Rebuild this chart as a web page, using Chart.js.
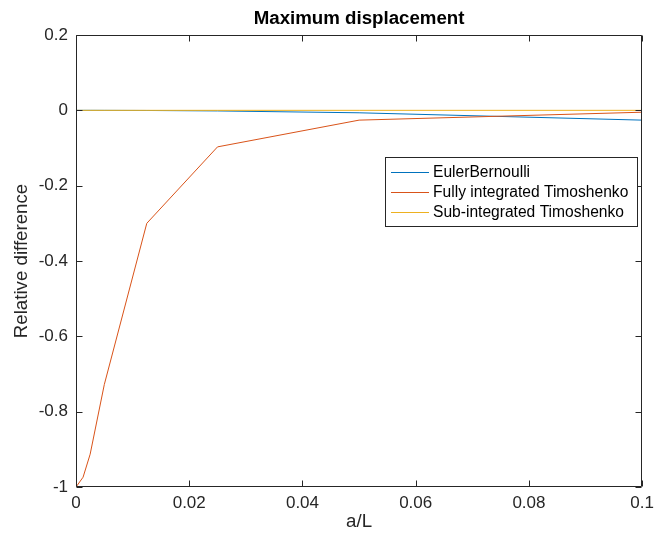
<!DOCTYPE html>
<html>
<head>
<meta charset="utf-8">
<script src="https://cdn.jsdelivr.net/npm/chart.js@4.4.0/dist/chart.umd.min.js"></script>
<style>
  html, body { margin: 0; padding: 0; background: #fff; }
  #wrap { width: 660px; height: 538px; }
</style>
</head>
<body>
<div id="wrap"><canvas id="chart" width="660" height="538"></canvas></div>
<script>
// a/L values of the runs, and relative difference for each model
const aOverL = [0.0001, 0.00125, 0.0025, 0.005, 0.0125, 0.025, 0.05, 0.1];
const eulerBernoulli = [0, 0, 0, -0.0001, -0.0004, -0.0016, -0.0065, -0.026];
const fullyIntegrated = [-0.998, -0.974, -0.913, -0.728, -0.300, -0.097, -0.026, -0.005];
const subIntegrated = [0, 0, 0, 0, 0, 0, 0, 0];

const seriesNames = ["EulerBernoulli", "Fully integrated Timoshenko", "Sub-integrated Timoshenko"];
const seriesColors = ["#0072BD", "#D95319", "#EDB120"];

const xTicks = [0, 0.02, 0.04, 0.06, 0.08, 0.1];
const xTickLabels = ["0", "0.02", "0.04", "0.06", "0.08", "0.1"];
const yTicks = [-1, -0.8, -0.6, -0.4, -0.2, 0, 0.2];
const yTickLabels = ["-1", "-0.8", "-0.6", "-0.4", "-0.2", "0", "0.2"];

const axisColor = "#262626";
const fontFamily = "'Liberation Sans', Arial, Helvetica, sans-serif";

function toPoints(ys) {
    return aOverL.map((x, i) => ({ x: x, y: ys[i] }));
}

// MATLAB style box, inward ticks, title and legend
const matlabFrame = {
    id: "matlabFrame",
    afterDatasetsDraw(chart) {
        const ctx = chart.ctx;
        const a = chart.chartArea;
        const xs = chart.scales.x, ys = chart.scales.y;
        const L = Math.round(a.left) + 0.5, R = Math.round(a.right) - 0.5;
        const T = Math.round(a.top) + 0.5, B = Math.round(a.bottom) - 0.5;
        const tick = 6;
        ctx.save();
        ctx.strokeStyle = axisColor;
        ctx.lineWidth = 1;
        ctx.beginPath();
        ctx.rect(L, T, R - L, B - T);
        xTicks.forEach(v => {
            const px = Math.round(xs.getPixelForValue(v)) + 0.5;
            ctx.moveTo(px, B); ctx.lineTo(px, B - tick);
            ctx.moveTo(px, T); ctx.lineTo(px, T + tick);
        });
        yTicks.forEach(v => {
            const py = Math.round(ys.getPixelForValue(v)) + 0.5;
            ctx.moveTo(L, py); ctx.lineTo(L + tick, py);
            ctx.moveTo(R, py); ctx.lineTo(R - tick, py);
        });
        ctx.stroke();

        // title
        ctx.fillStyle = "#000";
        ctx.font = "bold 18.7px " + fontFamily;
        ctx.textAlign = "center";
        ctx.textBaseline = "middle";
        ctx.fillText("Maximum displacement", (a.left + a.right) / 2, 19);

        // legend
        const bx = 385.5, by = 157.5, bw = 252, bh = 69;
        ctx.fillStyle = "#fff";
        ctx.fillRect(bx, by, bw, bh);
        ctx.strokeStyle = axisColor;
        ctx.strokeRect(bx, by, bw, bh);
        ctx.font = "15.6px " + fontFamily;
        ctx.textAlign = "left";
        for (let i = 0; i < seriesNames.length; i++) {
            const ly = 172.5 + i * 20;
            ctx.beginPath();
            ctx.strokeStyle = seriesColors[i];
            ctx.moveTo(391, ly);
            ctx.lineTo(429, ly);
            ctx.stroke();
            ctx.fillStyle = "#000";
            ctx.fillText(seriesNames[i], 433, ly);
        }
        ctx.restore();
    }
};

const ctx = document.getElementById("chart").getContext("2d");
new Chart(ctx, {
    type: "scatter",
    data: {
        datasets: [
            { label: seriesNames[0], data: toPoints(eulerBernoulli), borderColor: seriesColors[0], order: 3 },
            { label: seriesNames[1], data: toPoints(fullyIntegrated), borderColor: seriesColors[1], order: 2 },
            { label: seriesNames[2], data: toPoints(subIntegrated), borderColor: seriesColors[2], order: 1 }
        ].map(d => Object.assign(d, { showLine: true, borderWidth: 1, pointRadius: 0, tension: 0, fill: false }))
    },
    options: {
        responsive: false,
        animation: false,
        layout: { padding: { top: 35, right: 12, left: 0, bottom: 0 } },
        plugins: {
            legend: { display: false },
            tooltip: { enabled: false },
            title: { display: false }
        },
        scales: {
            x: {
                type: "linear",
                min: 0,
                max: 0.1,
                grid: { display: false, drawTicks: false },
                border: { display: false },
                afterBuildTicks: s => { s.ticks = xTicks.map(v => ({ value: v })); },
                afterFit: s => { s.height = 51; },
                ticks: {
                    padding: 6,
                    autoSkip: false,
                    maxRotation: 0,
                    color: axisColor,
                    font: { family: fontFamily, size: 17 },
                    callback: (v, i) => xTickLabels[i]
                },
                title: {
                    display: true,
                    text: "a/L",
                    color: axisColor,
                    font: { family: fontFamily, size: 18.7 },
                    padding: { top: 0, bottom: 5 }
                }
            },
            y: {
                type: "linear",
                min: -1,
                max: 0.2,
                grid: { display: false, drawTicks: false },
                border: { display: false },
                afterBuildTicks: s => { s.ticks = yTicks.map(v => ({ value: v })); },
                afterFit: s => { s.width = 76; },
                ticks: {
                    padding: 8,
                    autoSkip: false,
                    color: axisColor,
                    font: { family: fontFamily, size: 17 },
                    callback: (v, i) => yTickLabels[i]
                },
                title: {
                    display: true,
                    text: "Relative difference",
                    color: axisColor,
                    font: { family: fontFamily, size: 18.7 },
                    padding: { top: 11, bottom: 0 }
                }
            }
        }
    },
    plugins: [matlabFrame]
});
</script>
</body>
</html>
